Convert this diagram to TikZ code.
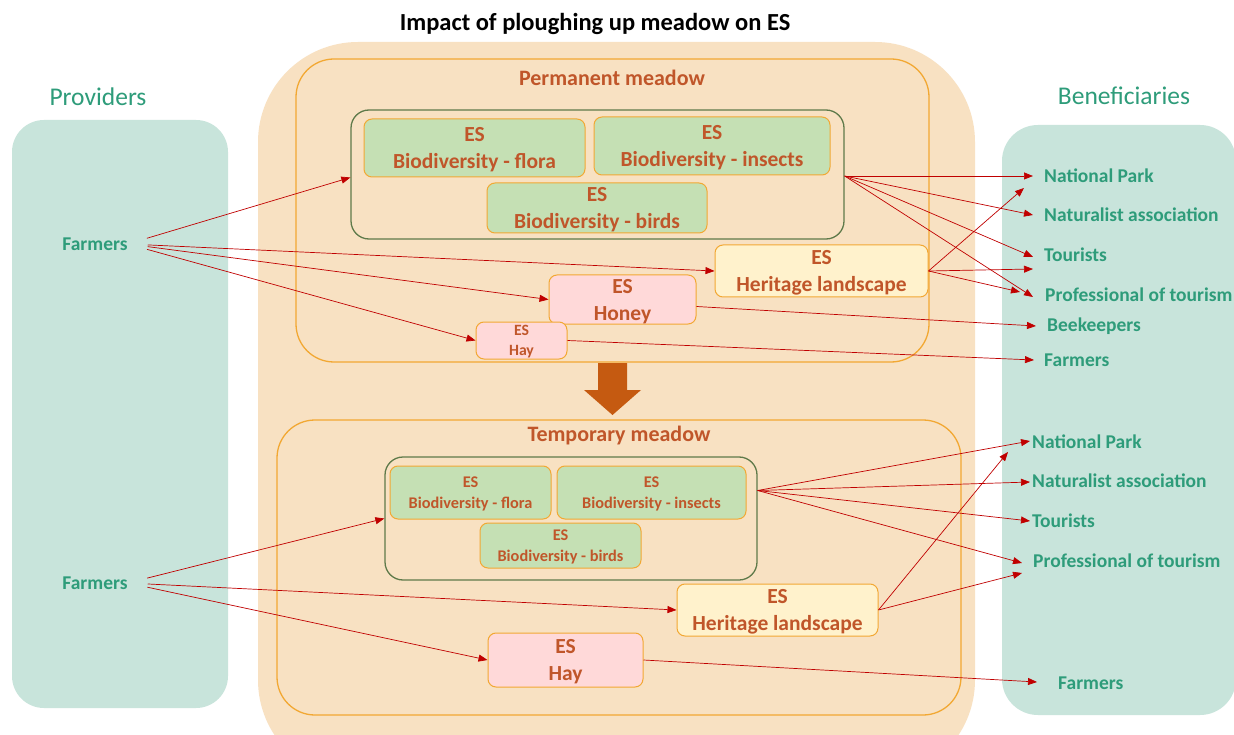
\documentclass[tikz,border=0pt]{standalone}
\usepackage{fontspec}
\setmainfont{Carlito}
\usetikzlibrary{arrows.meta}
\definecolor{tealbg}{HTML}{C8E4DB}
\definecolor{tealtxt}{HTML}{2E9C7A}
\definecolor{orangebg}{HTML}{F8E1C2}
\definecolor{boxorange}{HTML}{F2A833}
\definecolor{esbrown}{HTML}{C0562A}
\definecolor{greenfill}{HTML}{C5E0B4}
\definecolor{olivestroke}{HTML}{5F7A4A}
\definecolor{creamfill}{HTML}{FFF2CC}
\definecolor{pinkfill}{HTML}{FFD9D9}
\definecolor{arrred}{HTML}{C00000}
\definecolor{bigarrow}{HTML}{C55A11}
\tikzset{
  esbox/.style={draw=boxorange, line width=1pt, rounded corners=8pt, align=center, text=esbrown, inner sep=0pt,
    text depth=0pt, font=\bfseries\fontsize{21.5}{27}\selectfont},
  essmall/.style={esbox, font=\bfseries\fontsize{16.3}{21}\selectfont},
  greenbox/.style={fill=greenfill},
  creambox/.style={fill=creamfill},
  pinkbox/.style={fill=pinkfill},
  groupbox/.style={draw=olivestroke, line width=1.3pt, rounded corners=18pt, inner sep=0pt},
  meadow/.style={draw=boxorange, line width=1.3pt, rounded corners=38pt, inner sep=0pt},
  meadowlbl/.style={text=esbrown, font=\bfseries\fontsize{22}{24}\selectfont},
  actor/.style={text=tealtxt, font=\bfseries\fontsize{19.5}{22}\selectfont, inner sep=0pt},
  benef/.style={actor, anchor=west},
  colhead/.style={text=tealtxt, font=\fontsize{25.5}{28}\selectfont},
  link/.style={draw=arrred, line width=0.7pt, -{Triangle[length=9pt,width=7pt]}},
}
\begin{document}
\begin{tikzpicture}[x=1pt,y=-1pt]
\useasboundingbox (0,0) rectangle (1234,735);
\clip (0,0) rectangle (1234,735);
\fill[white] (0,0) rectangle (1234,735);

% title
\node[font=\bfseries\fontsize{24.5}{28}\selectfont] (title) at (595,24) {Impact of ploughing up meadow on ES};

% side panels
\node[fill=tealbg, rounded corners=32pt, minimum width=216pt, minimum height=588pt, inner sep=0pt] (provbg) at (120,414) {};
\node[fill=tealbg, rounded corners=36pt, minimum width=234pt, minimum height=590pt, inner sep=0pt] (benbg) at (1119,420) {};
\node[colhead] (provlbl) at (98,97) {Providers};
\node[colhead] (benlbl) at (1124,96) {Beneficiaries};

% big orange background
\fill[orangebg, rounded corners=100pt] (258,42) rectangle (975,780);

% meadow frames
\node[meadow, minimum width=633pt, minimum height=303pt] (perm) at (612.5,210.5) {};
\node[meadowlbl] (permlbl) at (612,78) {Permanent meadow};
\node[meadow, minimum width=684pt, minimum height=295pt] (temp) at (619,567.5) {};
\node[meadowlbl] (templbl) at (619,436) {Temporary meadow};

% down arrow
\fill[bigarrow] (598,363) -- (627,363) -- (627,390) -- (641,390) -- (612.5,415) -- (584,390) -- (598,390) -- cycle;

% ---- permanent meadow contents
\node[groupbox, minimum width=493pt, minimum height=129pt] (inner1) at (597.5,174.5) {};
\node[esbox, greenbox, minimum width=221pt, minimum height=58pt] (flora1) at (474.5,148) {ES\\Biodiversity - flora};
\node[esbox, greenbox, minimum width=236pt, minimum height=58pt] (insects1) at (712,146) {ES\\Biodiversity - insects};
\node[esbox, greenbox, minimum width=220pt, minimum height=50pt] (birds1) at (597,208) {ES\\Biodiversity - birds};
\node[esbox, creambox, minimum width=213pt, minimum height=52pt] (herit1) at (821.5,271) {ES\\Heritage landscape};
\node[esbox, pinkbox, minimum width=147pt, minimum height=49pt] (honey1) at (622.5,299.5) {ES\\Honey};
\node[esbox, pinkbox, font=\bfseries\fontsize{15.7}{20}\selectfont, minimum width=91pt, minimum height=37pt] (hay1) at (521.5,340.5) {ES\\Hay};

% ---- temporary meadow contents
\node[groupbox, minimum width=372pt, minimum height=123pt] (inner2) at (571,518.5) {};
\node[essmall, greenbox, minimum width=161pt, minimum height=53pt] (flora2) at (470.5,492.5) {ES\\Biodiversity - flora};
\node[essmall, greenbox, minimum width=189pt, minimum height=53pt] (insects2) at (651.5,492.5) {ES\\Biodiversity - insects};
\node[essmall, greenbox, minimum width=161pt, minimum height=45pt] (birds2) at (560.5,545.5) {ES\\Biodiversity - birds};
\node[esbox, creambox, minimum width=201pt, minimum height=52pt] (herit2) at (777.5,610) {ES\\Heritage landscape};
\node[esbox, pinkbox, minimum width=155pt, minimum height=54pt] (hay2) at (565.5,660) {ES\\Hay};

% ---- providers
\node[actor] (farm1) at (95,244) {Farmers};
\node[actor] (farm2) at (95,583) {Farmers};

% ---- beneficiaries (top)
\node[benef] (np1) at (1044,176) {National Park};
\node[benef] (nat1) at (1044,215) {Naturalist association};
\node[benef] (tour1) at (1044,255) {Tourists};
\node[benef] (prof1) at (1045,295) {Professional of tourism};
\node[benef] (bee1) at (1047,326) {Beekeepers};
\node[benef] (farmb1) at (1044,360) {Farmers};

% ---- beneficiaries (bottom)
\node[benef] (np2) at (1032,442) {National Park};
\node[benef] (nat2) at (1032,481) {Naturalist association};
\node[benef] (tour2) at (1032,521) {Tourists};
\node[benef] (prof2) at (1033,561) {Professional of tourism};
\node[benef] (farmb2) at (1058,683) {Farmers};

% arrow end coordinates
\coordinate (e-np1) at (1033,176);
\coordinate (e-np1b) at (1024,188);
\coordinate (e-nat1) at (1033,215);
\coordinate (e-tour1) at (1033,257);
\coordinate (e-tour1b) at (1033,269);
\coordinate (e-prof1) at (1033,297);
\coordinate (e-prof1b) at (1020,292);
\coordinate (e-bee1) at (1036,326);
\coordinate (e-farm1) at (1034,360);
\coordinate (e-np2) at (1030,441);
\coordinate (e-np2b) at (1008,452);
\coordinate (e-nat2) at (1030,482);
\coordinate (e-tour2) at (1030,521);
\coordinate (e-prof2) at (1022,563);
\coordinate (e-prof2b) at (1022,573);
\coordinate (e-farm2) at (1037,682);

% ---- connectors (top)
\draw[link, shorten <=20pt] (farm1.east) -- ([yshift=-3pt]inner1.west);
\draw[link, shorten <=20pt] (farm1.east) -- (herit1.west);
\draw[link, shorten <=20pt] (farm1.east) -- (honey1.west);
\draw[link, shorten <=20pt] (farm1.east) -- (hay1.west);
\draw[link] ([yshift=-1.5pt]inner1.east) -- (e-np1);
\draw[link] ([yshift=-1.5pt]inner1.east) -- (e-nat1);
\draw[link] ([yshift=-1.5pt]inner1.east) -- (e-tour1);
\draw[link] ([yshift=-1.5pt]inner1.east) -- (e-prof1);
\draw[link] (herit1.east) -- (e-np1b);
\draw[link] (herit1.east) -- (e-tour1b);
\draw[link] (herit1.east) -- (e-prof1b);
\draw[link] ([yshift=-7pt]honey1.east) -- (e-bee1);
\draw[link] (hay1.east) -- (e-farm1);

% ---- connectors (bottom)
\draw[link, shorten <=20pt] (farm2.east) -- (inner2.west);
\draw[link, shorten <=20pt] (farm2.east) -- (herit2.west);
\draw[link, shorten <=20pt] (farm2.east) -- (hay2.west);
\draw[link] ([yshift=28pt]inner2.east) -- (e-np2);
\draw[link] ([yshift=28pt]inner2.east) -- (e-nat2);
\draw[link] ([yshift=28pt]inner2.east) -- (e-tour2);
\draw[link] ([yshift=28pt]inner2.east) -- (e-prof2);
\draw[link] (herit2.east) -- (e-np2b);
\draw[link] (herit2.east) -- (e-prof2b);
\draw[link] (hay2.east) -- (e-farm2);
\end{tikzpicture}
\end{document}
